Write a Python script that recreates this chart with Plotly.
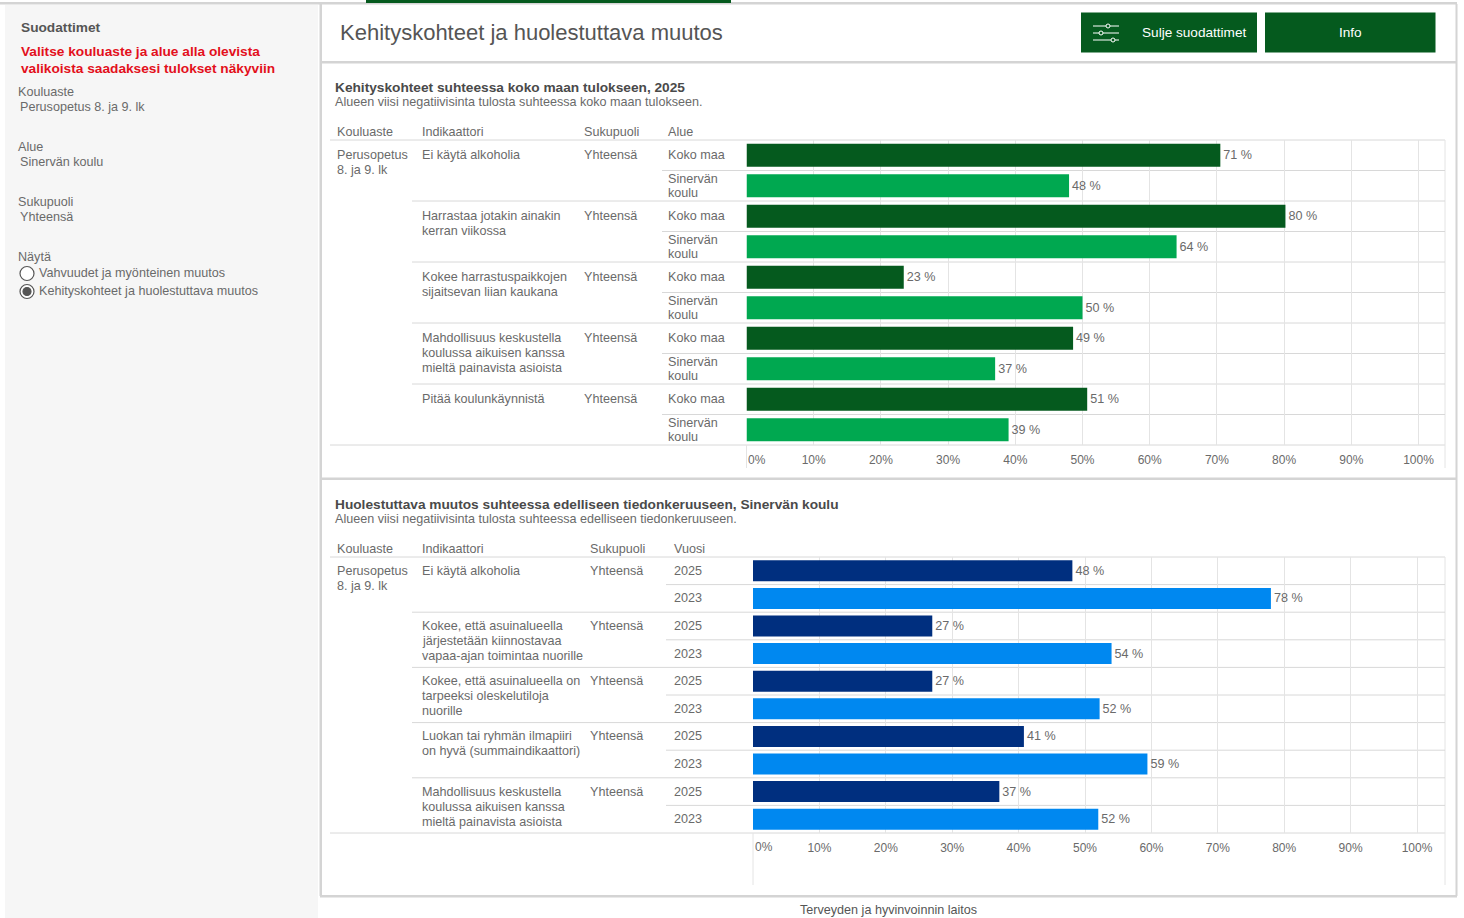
import plotly.graph_objects as go

W, H = 1464, 918

# ---------- data ----------
top_rows = ["Koko maa", "Sinervän\nkoulu"] * 5
top_indicators = ["Ei käytä alkoholia",
                  "Harrastaa jotakin ainakin\nkerran viikossa",
                  "Kokee harrastuspaikkojen\nsijaitsevan liian kaukana",
                  "Mahdollisuus keskustella\nkoulussa aikuisen kanssa\nmieltä painavista asioista",
                  "Pitää koulunkäynnistä"]
top_country = [70.51, 80.2, 23.4, 48.6, 50.7]
top_school = [48.0, 64.0, 50.0, 37.0, 39.0]

bot_rows = ["2025", "2023"] * 5
bot_indicators = ["Ei käytä alkoholia",
                  "Kokee, että asuinalueella\njärjestetään kiinnostavaa\nvapaa-ajan toimintaa nuorille",
                  "Kokee, että asuinalueella on\ntarpeeksi oleskelutiloja\nnuorille",
                  "Luokan tai ryhmän ilmapiiri\non hyvä (summaindikaattori)",
                  "Mahdollisuus keskustella\nkoulussa aikuisen kanssa\nmieltä painavista asioista"]
bot_2025 = [48.1, 27.0, 27.0, 40.8, 37.1]
bot_2023 = [78.0, 54.0, 52.2, 59.4, 52.0]

tick_vals = [0, 10, 20, 30, 40, 50, 60, 70, 80, 90, 100]
tick_text = ["", "10%", "20%", "30%", "40%", "50%", "60%", "70%", "80%", "90%", "100%"]

DARK_GREEN, LIGHT_GREEN = "#055a1e", "#00a850"
NAVY, BLUE = "#002f7f", "#0088f0"
TXT, FRAME, GRID = "#6a6a6a", "#d4d4d4", "#e4e4e4"
FONT = "Liberation Sans"
BASE = 12.6
BOLD = 13.7

# ---------- helpers ----------
px = lambda x: x / W
py = lambda y: 1 - y / H
shapes, annos = [], []


def rect(x0, y0, x1, y1, color):
    shapes.append(dict(type="rect", xref="paper", yref="paper", x0=px(x0), x1=px(x1),
                       y0=py(y0), y1=py(y1), fillcolor=color, line_width=0, layer="below"))


def line(x0, y0, x1, y1, color=GRID, width=1):
    shapes.append(dict(type="line", xref="paper", yref="paper", x0=px(x0), x1=px(x1),
                       y0=py(y0), y1=py(y1), line=dict(color=color, width=width), layer="below"))


def circle(cx, cy, r, fill, edge, width=1.2):
    shapes.append(dict(type="circle", xref="paper", yref="paper", x0=px(cx - r), x1=px(cx + r),
                       y0=py(cy + r), y1=py(cy - r), fillcolor=fill,
                       line=dict(color=edge, width=width), layer="above"))


def text(x, y, s, size=BASE, color=TXT, bold=False, anchor="left", lh=15):
    if anchor == "left":
        x -= 1
    for i, part in enumerate(s.split("\n")):
        annos.append(dict(xref="paper", yref="paper", x=px(x), y=py(y + i * lh), text=f"<b>{part}</b>" if bold else part,
                          showarrow=False, xanchor=anchor, yanchor="middle", borderpad=0,
                          font=dict(family=FONT, size=size, color=color)))


# ---------- page furniture ----------
rect(5, 5, 318, 918, "#f6f6f6")
rect(0, 2, 1457, 4.5, FRAME)
rect(366, 0, 731, 3, DARK_GREEN)
rect(319.5, 4, 322, 896, FRAME)
rect(1455.5, 4, 1457.5, 896, FRAME)
rect(320, 61, 1457, 63.5, FRAME)
rect(320, 477.5, 1457, 480, FRAME)
rect(320, 895, 1457, 897.5, FRAME)
rect(1081, 12.5, 1257, 52.5, DARK_GREEN)
rect(1265, 12.5, 1435.5, 52.5, DARK_GREEN)
for yy, xx in [(26, 1108), (33, 1101), (40, 1113)]:
    line(1093, yy, 1119, yy, "#ffffff", 1)
    circle(xx, yy, 2, DARK_GREEN, "#ffffff", 1)

# left panel
text(21, 28, "Suodattimet", BOLD, "#555555", True)
text(21, 52, "Valitse kouluaste ja alue alla olevista\nvalikoista saadaksesi tulokset näkyviin", BOLD, "#e3101c", True, lh=16)
for x, y, s in [(18, 92, "Kouluaste"), (20, 107, "Perusopetus 8. ja 9. lk"), (18, 147, "Alue"),
                (20, 162, "Sinervän koulu"), (18, 202, "Sukupuoli"), (20, 217, "Yhteensä"), (18, 257, "Näytä"),
                (39, 273, "Vahvuudet ja myönteinen muutos"), (39, 291, "Kehityskohteet ja huolestuttava muutos")]:
    text(x, y, s)
circle(27, 273.5, 7, "#ffffff", "#555555")
circle(27, 291.5, 7, "#ffffff", "#555555")
circle(27, 291.5, 4, "#555555", "#555555")

# header
text(340, 33, "Kehityskohteet ja huolestuttava muutos", 22, "#555555")
text(1193.5, 33, "Sulje suodattimet", 13.6, "#ffffff", anchor="center")
text(1350, 33, "Info", 13.6, "#ffffff", anchor="center")
text(888, 910, "Terveyden ja hyvinvoinnin laitos", BASE, "#555555", anchor="center")


# ---------- tables ----------
def section(title, sub, ty, heads, head_xs, rows, inds, y_top, y_bot, ax_x0, yaxis, row_x, sub_x, below):
    text(335, ty, title, BOLD, "#4a4a4a", True)
    text(335, ty + 15, sub)
    for hx, h in zip(head_xs, heads):
        text(hx, ty + 45, h)
    rh = (y_bot - y_top) / 10
    text(337, y_top + rh / 2, "Perusopetus\n8. ja 9. lk")
    line(330, y_top, 1445, y_top, "#d8d8d8")
    line(330, y_bot, 1445, y_bot, "#d8d8d8")
    line(ax_x0, y_bot, ax_x0, y_bot + below)
    line(1445, y_top, 1445, y_bot + below)
    for i, ind in enumerate(inds):
        cy = y_top + rh * (2 * i + 0.5)
        text(421.5, cy, ind)
        text(head_xs[2], cy, "Yhteensä")
        if i:
            shapes.append(dict(type="line", xref="paper", yref=yaxis, x0=px(412), x1=px(1445),
                               y0=2 * i - 0.5, y1=2 * i - 0.5, line=dict(color="#d8d8d8", width=1), layer="below"))
        shapes.append(dict(type="line", xref="paper", yref=yaxis, x0=px(sub_x), x1=px(1445),
                           y0=2 * i + 0.5, y1=2 * i + 0.5, line=dict(color="#d8d8d8", width=1), layer="below"))
    for j, r in enumerate(rows):
        cy = y_top + rh * (j + 0.5)
        if "\n" in r:
            text(row_x, cy - 7, r, lh=14.5)
        else:
            text(row_x, cy, r)


section("Kehityskohteet suhteessa koko maan tulokseen, 2025",
        "Alueen viisi negatiivisinta tulosta suhteessa koko maan tulokseen.", 87,
        ["Kouluaste", "Indikaattori", "Sukupuoli", "Alue"], [337, 421.5, 584, 668],
        top_rows, top_indicators, 140, 445, 746.5, "y", 668, 662, 23)
section("Huolestuttava muutos suhteessa edelliseen tiedonkeruuseen, Sinervän koulu",
        "Alueen viisi negatiivisinta tulosta suhteessa edelliseen tiedonkeruuseen.", 504,
        ["Kouluaste", "Indikaattori", "Sukupuoli", "Vuosi"], [337, 421.5, 590, 674],
        bot_rows, bot_indicators, 557, 833, 753, "y2", 674, 666, 52)

# ---------- bars ----------
fig = go.Figure()


def bars(vals, offset, color, name, xa, ya):
    fig.add_trace(go.Bar(x=vals, y=[2 * i + offset for i in range(len(vals))], orientation="h", name=name,
                         marker=dict(color=color, line_width=0), width=0.76, xaxis=xa, yaxis=ya,
                         text=[f"{round(v)} %" for v in vals], textposition="outside", cliponaxis=False,
                         textfont=dict(family=FONT, size=BASE, color=TXT), showlegend=False))


bars(top_country, 0, DARK_GREEN, "Koko maa", "x", "y")
bars(top_school, 1, LIGHT_GREEN, "Sinervän koulu", "x", "y")
bars(bot_2025, 0, NAVY, "2025", "x2", "y2")
bars(bot_2023, 1, BLUE, "2023", "x2", "y2")

for xa, yy, shift in [("x", 460, -1), ("x2", 847, 0)]:
    annos.append(dict(xref=xa, yref="paper", x=0, y=py(yy), text="0%", showarrow=False,
                      xanchor="left", yanchor="middle", xshift=shift, font=dict(family=FONT, size=12, color=TXT)))


def xaxis(x0, per_pct, anchor):
    return dict(domain=[px(x0), px(1445)], range=[0, (1445 - x0) / per_pct], anchor=anchor,
                tickmode="array", tickvals=tick_vals, ticktext=tick_text, showgrid=True, gridcolor=GRID,
                gridwidth=1, zeroline=False, showline=False, ticks="outside", ticklen=4,
                tickcolor="rgba(0,0,0,0)", tickfont=dict(family=FONT, size=12, color=TXT))


def yaxis(y_top, y_bot, anchor):
    return dict(domain=[py(y_bot), py(y_top)], range=[9.5, -0.5], anchor=anchor, showticklabels=False,
                showgrid=False, zeroline=False, showline=False, ticks="")


fig.update_layout(width=W, height=H, margin=dict(l=0, r=0, t=0, b=0), autosize=False,
                  paper_bgcolor="#ffffff", plot_bgcolor="rgba(0,0,0,0)", barmode="overlay",
                  font=dict(family=FONT, size=12, color=TXT),
                  xaxis=xaxis(746.5, 6.72, "y"), yaxis=yaxis(140, 445, "x"),
                  xaxis2=xaxis(753, 6.64, "y2"), yaxis2=yaxis(557, 833, "x2"),
                  shapes=shapes, annotations=annos)

fig.write_html("out.html", config=dict(displayModeBar=False),
               post_script="document.body.style.margin='0';")
